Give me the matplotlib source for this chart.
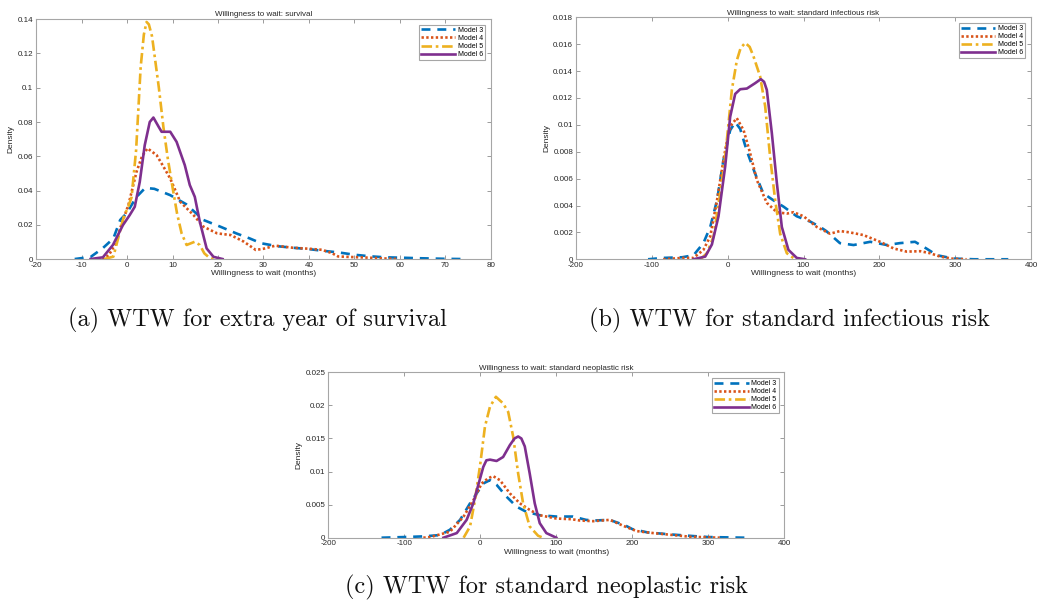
import matplotlib
matplotlib.use("Agg")
import matplotlib.pyplot as plt
from matplotlib.ticker import FormatStrFormatter

# ---- survival ----
surv_m3_x = [-11.5, -8, -5.3, -3, -1.5, 0, 2, 4, 6, 9.5, 13, 16.8, 20.4, 24, 27, 29.5, 33,
             36.4, 40, 43, 46.4, 50, 53.4, 56.7, 60, 63.7, 67, 70.3, 73.5]
surv_m3_y = [0, 0.0012, 0.0064, 0.012, 0.0228, 0.027, 0.036, 0.0415, 0.041, 0.0373, 0.032,
             0.0228, 0.019, 0.015, 0.012, 0.0092, 0.0075, 0.0066, 0.0058, 0.0048, 0.0039,
             0.0025, 0.0016, 0.001, 0.0008, 0.0005, 0.0003, 0.0001, 0]
surv_m4_x = [-6.5, -5, -4, -2.5, -1.5, 0.3, 2.1, 3.3, 4.5, 6.5, 8, 9.5, 11.7, 14.6, 16.8,
             19.8, 22.8, 25.7, 28.3, 30, 32.6, 36.4, 40, 42.8, 45, 46.4, 49, 53, 56, 59.5]
surv_m4_y = [0, 0.0005, 0.0023, 0.009, 0.018, 0.0315, 0.051, 0.06, 0.0646, 0.0607, 0.054,
             0.047, 0.0334, 0.0257, 0.0189, 0.015, 0.014, 0.0101, 0.0053, 0.006, 0.0078,
             0.0066, 0.006, 0.0054, 0.0035, 0.0015, 0.0012, 0.0008, 0.0004, 0]
surv_m5_x = [-5, -3, -1, -0.5, 0, 1, 2, 3, 3.7, 4.3, 4.8, 5.5, 7, 8, 9, 10, 11, 12, 13.1,
             14.9, 16, 17, 18, 19]
surv_m5_y = [0, 0.0014, 0.0218, 0.0266, 0.0286, 0.036, 0.0636, 0.112, 0.131, 0.1384, 0.137,
             0.130, 0.100, 0.077, 0.058, 0.042, 0.0266, 0.015, 0.0082, 0.0101, 0.0082,
             0.0033, 0.001, 0]
surv_m6_x = [-8, -5.3, -3.1, -0.9, 0.6, 1.7, 2.8, 3.9, 5, 5.8, 7, 7.6, 9.5, 10.9, 12.7,
             13.8, 14.9, 16, 17.5, 19, 21]
surv_m6_y = [0, 0.001, 0.0082, 0.0198, 0.0257, 0.0305, 0.045, 0.0665, 0.080, 0.0826, 0.077,
             0.0743, 0.0743, 0.0684, 0.0548, 0.0432, 0.0363, 0.0218, 0.0062, 0.0013, 0]

# ---- standard infectious risk ----
inf_m3_x = [-105, -85, -60, -45, -32, -23, -14, -5.5, 3.3, 10, 16.5, 25, 36, 47, 60, 74, 91,
            109, 122, 130, 140, 148, 166, 188, 210, 227, 247, 262, 276, 298, 325, 370]
inf_m3_y = [0, 0.0001, 0.00015, 0.0003, 0.0012, 0.0024, 0.0044, 0.0074, 0.0096, 0.0102,
            0.0097, 0.0081, 0.0064, 0.0049, 0.0044, 0.0039, 0.0032, 0.0028, 0.0024, 0.0021,
            0.0016, 0.0012, 0.00106, 0.0013, 0.00106, 0.0012, 0.0013, 0.0008, 0.0003,
            0.00005, 0, 0]
inf_m4_x = [-85, -60, -45, -32, -23, -14, -5.5, 1, 5, 12, 21, 29.6, 38.4, 51.6, 64.8, 78, 87,
            100, 117.6, 135, 148, 161, 179, 201, 219, 236, 254, 267, 280, 298, 315]
inf_m4_y = [0, 0.0001, 0.0001, 0.0007, 0.0017, 0.0044, 0.0074, 0.0094, 0.0100, 0.0105,
            0.0096, 0.0079, 0.0059, 0.0042, 0.0035, 0.0034, 0.0035, 0.0032, 0.0024, 0.0019,
            0.0021, 0.0020, 0.0018, 0.0013, 0.0008, 0.00057, 0.0006, 0.00045, 0.0002,
            0.00003, 0]
inf_m5_x = [-36, -27.4, -18.6, -9.9, -3.3, 1.1, 5.5, 12.1, 17, 23.1, 29, 34, 42.8, 49.4, 56,
            62.6, 69.2, 78, 89]
inf_m5_y = [0, 0.00045, 0.0017, 0.0049, 0.0076, 0.0101, 0.0126, 0.0148, 0.0157, 0.0161,
            0.0158, 0.0151, 0.0136, 0.0114, 0.0076, 0.0044, 0.0019, 0.00045, 0]
inf_m6_x = [-45, -29.6, -20.8, -12.1, -3.3, 3.3, 9.9, 16.5, 25.3, 36.2, 43.7, 48, 51.6, 58.2,
            64.8, 71.4, 80.1, 91.1, 102]
inf_m6_y = [0, 0.0002, 0.0011, 0.0032, 0.0069, 0.0106, 0.0123, 0.01265, 0.0127, 0.0131,
            0.0134, 0.0132, 0.0126, 0.0094, 0.0057, 0.0024, 0.0007, 0.0001, 0]

# ---- standard neoplastic risk ----
neo_m3_x = [-130, -100, -75, -53, -40, -26.6, -13.5, -4.8, 3.9, 12.7, 21.4, 34.5, 47.6, 60.7,
            78.2, 100, 121.8, 139, 150, 170, 190, 200, 220, 250, 280, 300, 350]
neo_m3_y = [0, 0.0001, 0.0002, 0.0004, 0.0012, 0.0027, 0.0052, 0.0067, 0.0082, 0.0087, 0.008,
            0.0062, 0.0047, 0.0039, 0.0034, 0.0032, 0.0032, 0.0027, 0.0026, 0.0027, 0.0019,
            0.0013, 0.0008, 0.0005, 0.00025, 0.0001, 0]
neo_m4_x = [-75, -66, -40, -22, -8, 1.7, 10.5, 17, 25.8, 38.9, 52, 65, 78.2, 100, 120, 131,
            148.7, 170.6, 188, 205.7, 227.6, 254, 275.8, 306.6, 315]
neo_m4_y = [0, 0.0001, 0.0009, 0.0032, 0.0059, 0.0082, 0.009, 0.0093, 0.0087, 0.0067, 0.0052,
            0.0042, 0.0034, 0.0029, 0.0028, 0.0026, 0.0025, 0.0027, 0.0018, 0.001, 0.0007,
            0.0004, 0.00015, 0.00003, 0]
neo_m5_x = [-22, -13.5, -7, 0, 6.1, 12.7, 20.5, 30, 36.7, 43.2, 49.8, 56.3, 65, 76, 82.5]
neo_m5_y = [0, 0.0017, 0.0057, 0.0112, 0.0168, 0.0198, 0.0213, 0.0203, 0.019, 0.0153, 0.0097,
            0.0052, 0.0017, 0.0003, 0]
neo_m6_x = [-48.5, -31, -18, -9.2, -2.6, 3.9, 8, 12.7, 21.4, 30, 38.9, 45, 49.8, 54, 58.5, 65,
            71.6, 78.2, 86.9, 100]
neo_m6_y = [0, 0.0007, 0.0027, 0.0052, 0.008, 0.0107, 0.0117, 0.0118, 0.0116, 0.0122, 0.014,
            0.015, 0.0153, 0.015, 0.0138, 0.0097, 0.0052, 0.0022, 0.0007, 0]

model_names = ["Model 3", "Model 4", "Model 5", "Model 6"]
model_colors = ["#0072BD", "#D95319", "#EDB120", "#7E2F8E"]
model_dashes = [(3.4, 2.6), (0.9, 0.9), (4.0, 1.4, 1.0, 1.4), ()]

plt.rcParams["font.family"] = ["Liberation Sans", "DejaVu Sans"]

fig = plt.figure(figsize=(10.38, 6.01), dpi=100)


def draw_panel(ax, title, curves, xlim, xticks, ylim, yticks):
    for (xs, ys), name, col, dash in zip(curves, model_names, model_colors, model_dashes):
        line, = ax.plot(xs, ys, color=col, lw=1.9, label=name,
                        solid_joinstyle="round", dash_joinstyle="round")
        if dash:
            line.set_dashes(dash)
    ax.set_xlim(xlim)
    ax.set_ylim(ylim)
    ax.set_xticks(xticks)
    ax.set_yticks(yticks)
    ax.xaxis.set_major_formatter(FormatStrFormatter("%g"))
    ax.yaxis.set_major_formatter(FormatStrFormatter("%g"))
    ax.tick_params(direction="in", top=True, right=True, length=3, width=0.6,
                   labelsize=5.8, colors="#8c8c8c", labelcolor="#262626", pad=2)
    for sp in ax.spines.values():
        sp.set_color("#a6a6a6")
        sp.set_linewidth(0.8)
    ax.set_title(title, fontsize=5.8, pad=2, color="#262626")
    ax.set_xlabel("Willingness to wait (months)", fontsize=6, labelpad=1, color="#262626")
    ax.set_ylabel("Density", fontsize=6, labelpad=2, color="#262626")
    leg = ax.legend(loc="upper right", fontsize=5, handlelength=5.0, handletextpad=0.4,
                    labelspacing=0.15, borderpad=0.3, fancybox=False, framealpha=1,
                    borderaxespad=0.8)
    leg.get_frame().set_edgecolor("#a6a6a6")
    leg.get_frame().set_linewidth(0.8)


ax_a = fig.add_axes([0.0347, 0.569, 0.4383, 0.399])
draw_panel(ax_a, "Willingness to wait: survival",
           [(surv_m3_x, surv_m3_y), (surv_m4_x, surv_m4_y),
            (surv_m5_x, surv_m5_y), (surv_m6_x, surv_m6_y)],
           (-20, 80), range(-20, 81, 10), (0, 0.14),
           [0, 0.02, 0.04, 0.06, 0.08, 0.1, 0.12, 0.14])

ax_b = fig.add_axes([0.5549, 0.5686, 0.4384, 0.4026])
draw_panel(ax_b, "Willingness to wait: standard infectious risk",
           [(inf_m3_x, inf_m3_y), (inf_m4_x, inf_m4_y),
            (inf_m5_x, inf_m5_y), (inf_m6_x, inf_m6_y)],
           (-200, 400), range(-200, 401, 100), (0, 0.018),
           [0, 0.002, 0.004, 0.006, 0.008, 0.01, 0.012, 0.014, 0.016, 0.018])

ax_c = fig.add_axes([0.3163, 0.1053, 0.4393, 0.2752])
draw_panel(ax_c, "Willingness to wait: standard neoplastic risk",
           [(neo_m3_x, neo_m3_y), (neo_m4_x, neo_m4_y),
            (neo_m5_x, neo_m5_y), (neo_m6_x, neo_m6_y)],
           (-200, 400), range(-200, 401, 100), (0, 0.025),
           [0, 0.005, 0.01, 0.015, 0.02, 0.025])

# sub-figure captions
cap_style = dict(fontsize=17.5, family="cmr10", ha="center", va="center", color="#111111")
fig.text(257 / 1038, 1 - 320 / 601, "(a) WTW for extra year of survival", **cap_style)
fig.text(789 / 1038, 1 - 320 / 601, "(b) WTW for standard infectious risk", **cap_style)
fig.text(546 / 1038, 1 - 587 / 601, "(c) WTW for standard neoplastic risk", **cap_style)

fig.savefig("out.png", dpi=100)
